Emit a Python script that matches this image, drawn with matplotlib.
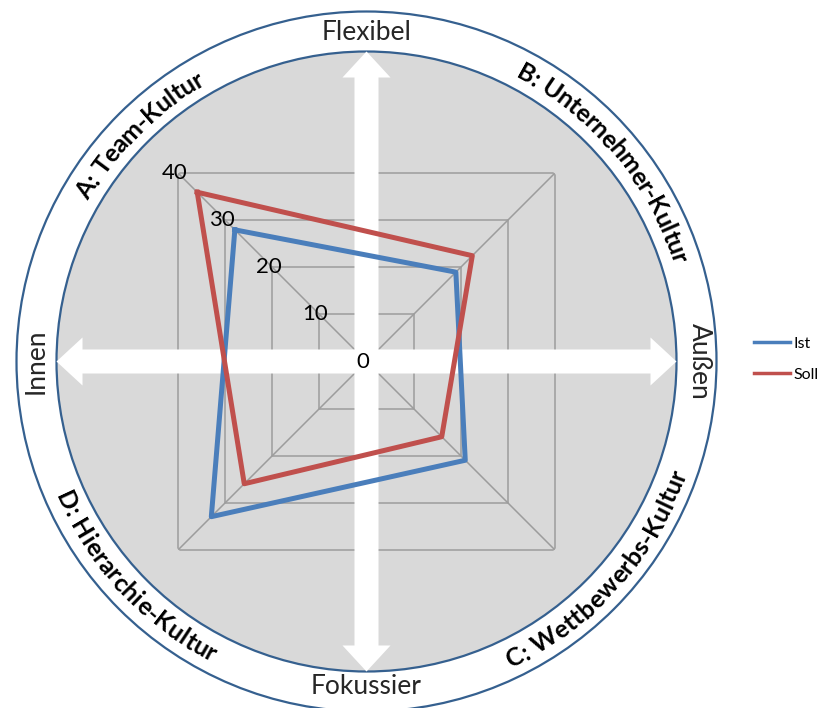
import numpy as np
import matplotlib
matplotlib.use("Agg")
import matplotlib.pyplot as plt
from matplotlib.patches import Circle, FancyArrow
from matplotlib.lines import Line2D
from matplotlib.font_manager import FontProperties
from matplotlib.textpath import TextToPath
from matplotlib.transforms import offset_copy

# data
categories = ["A: Team-Kultur", "B: Unternehmer-Kultur", "C: Wettbewerbs-Kultur", "D: Hierarchie-Kultur"]
ist = [28, 19, 21, 33]
soll = [36, 22.5, 16, 26]
levels = [0, 10, 20, 30, 40]
series_names = ["Ist", "Soll"]
axis_names = ["Flexibel", "Fokussier", "Innen", "Außen"]

# spoke directions (deg) and where the curved labels sit on the ring
spoke_deg = [135, 45, -45, 225]
label_deg = [135, 40, -42, 223]

FAM = ["Lato", "DejaVu Sans"]
BLUE = "#4a7ebb"
RED = "#c0504d"
RING = "#35608f"

W, H = 823, 708
cx, cy = 366.5, H - 361.5
R_in, R_out = 310, 350
R_grid = 266  # pixel radius of the value 40

fig = plt.figure(figsize=(W / 100, H / 100), dpi=100)

# background: ring, grey disc, labels
bg = fig.add_axes([0, 0, 1, 1])
bg.set_xlim(0, W)
bg.set_ylim(0, H)
bg.axis("off")
bg.add_patch(Circle((cx, cy), R_out, fc="white", ec=RING, lw=1.6))
bg.add_patch(Circle((cx, cy), R_in, fc="#d9d9d9", ec=RING, lw=1.6))

ttp = TextToPath()


def advance(c, prop):
    w1 = ttp.get_text_width_height_descent("H" + c + "H", prop, ismath=False)[0]
    w0 = ttp.get_text_width_height_descent("HH", prop, ismath=False)[0]
    return (w1 - w0) * 100 / 72.0


def curved_text(s, mid, top, r=330, size=18):
    prop = FontProperties(family=FAM, weight="bold", size=size)
    adv = [advance(c, prop) for c in s]
    total = sum(adv)
    cap = 0.72 * size * 100 / 72.0
    pos = -total / 2.0
    for c, a in zip(s, adv):
        off = np.degrees((pos + a / 2.0) / r)
        pos += a
        if top:
            th = mid - off
            rot = th - 90
            rb = r - cap / 2
        else:
            th = mid + off
            rot = th + 90
            rb = r + cap / 2
        x = cx + rb * np.cos(np.radians(th))
        y = cy + rb * np.sin(np.radians(th))
        bg.text(x, y, c, rotation=rot, rotation_mode="anchor", ha="center",
                va="baseline", fontproperties=prop, color="black")


for name, deg in zip(categories, label_deg):
    curved_text(name, deg, top=np.sin(np.radians(deg)) > 0)

bg.text(cx, H - 32, axis_names[0], ha="center", va="center", fontsize=19, family=FAM, color="#262626")
bg.text(cx, H - 686, axis_names[1], ha="center", va="center", fontsize=19, family=FAM, color="#262626")
bg.text(36, cy, axis_names[2], ha="center", va="center", rotation=90, fontsize=19, family=FAM, color="#262626")
bg.text(699, cy, axis_names[3], ha="center", va="center", rotation=-90, fontsize=19, family=FAM, color="#262626")

# radar part
ax = fig.add_axes([(cx - R_grid) / W, (cy - R_grid) / H, 2 * R_grid / W, 2 * R_grid / H],
                  projection="polar")
ax.set_autoscale_on(False)
ax.axis("off")

theta = np.radians(spoke_deg + spoke_deg[:1])
for lv in levels[1:]:
    ax.plot(theta, [lv] * len(theta), color="#9c9c9c", lw=1.1, zorder=1)
for t in np.radians(spoke_deg):
    ax.plot([t, t], [0, levels[-1]], color="#9c9c9c", lw=1.1, zorder=1)

# white double arrows on top of the grid
for dx, dy in [(0, 1), (0, -1), (1, 0), (-1, 0)]:
    arr = FancyArrow(cx, cy, dx * R_in, dy * R_in, width=24, head_width=48, head_length=26,
                     length_includes_head=True, fc="white", ec="none",
                     transform=bg.transData, zorder=2)
    ax.add_artist(arr)
    arr.set_clip_on(False)

ax.plot(theta, ist + ist[:1], color=BLUE, lw=3.6, zorder=4, clip_on=False)
ax.plot(theta, soll + soll[:1], color=RED, lw=3.6, zorder=5, clip_on=False)

tr = offset_copy(ax.transData, fig=fig, x=-4, y=0, units="dots")
for lv in levels:
    ax.text(np.radians(spoke_deg[0]), lv, str(lv), transform=tr, ha="center", va="center",
            fontsize=16, family=FAM, color="black", zorder=6)
ax.set_ylim(0, levels[-1])

handles = [Line2D([], [], color=BLUE, lw=2.5), Line2D([], [], color=RED, lw=2.5)]
fig.legend(handles, series_names, loc="center left", bbox_to_anchor=(754 / W, (H - 359.2) / H),
           frameon=False, borderpad=0, borderaxespad=0, handlelength=2.25, handletextpad=0.2,
           labelspacing=1.05, prop=FontProperties(family=FAM, size=11.5))

fig.savefig("out.png", dpi=100)
